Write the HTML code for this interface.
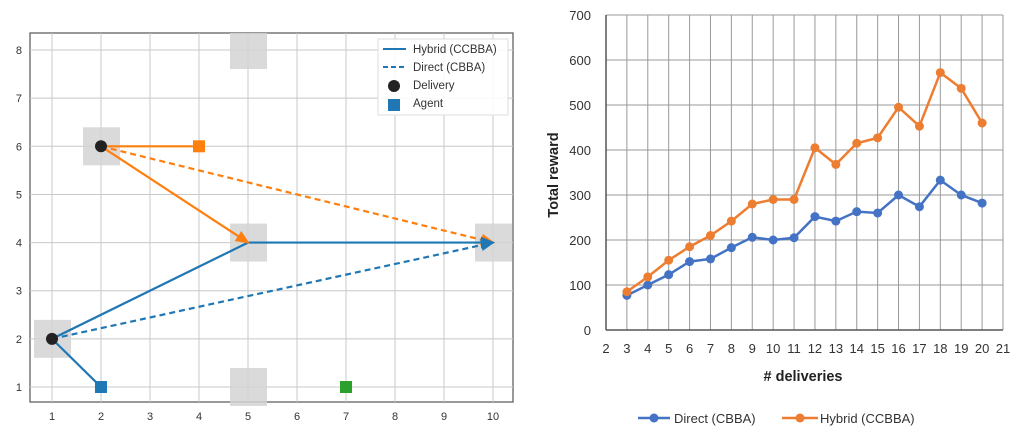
<!DOCTYPE html>
<html><head><meta charset="utf-8"><style>
body{margin:0;background:#fff;width:1026px;height:440px;overflow:hidden}
svg text{font-family:"Liberation Sans",sans-serif}
</style></head><body>
<svg id="s" width="1026" height="440" xmlns="http://www.w3.org/2000/svg">
<defs>
<marker id="ao" markerWidth="14" markerHeight="14" refX="12" refY="7" orient="auto" markerUnits="userSpaceOnUse" viewBox="0 0 14 14"><path d="M0,1L14,7L0,13z" fill="#ff7f0e"/></marker>
<marker id="ab" markerWidth="14" markerHeight="14" refX="12" refY="7" orient="auto" markerUnits="userSpaceOnUse" viewBox="0 0 14 14"><path d="M0,1L14,7L0,13z" fill="#1f77b4"/></marker>
</defs>
<g id="left"></g>
<g id="right"></g>
</svg>
<script>
const NS="http://www.w3.org/2000/svg";
function mk(p,t,a,txt){const e=document.createElementNS(NS,t);for(const k in a)e.setAttribute(k,a[k]);if(txt!==undefined)e.textContent=txt;p.appendChild(e);return e;}

// ---- left map data ----
const gridXTicks=[1,2,3,4,5,6,7,8,9,10];
const gridYTicks=[1,2,3,4,5,6,7,8];
const zones=[[5,8],[2,6],[5,4],[10,4],[1,2],[5,1]];
const deliveries=[[2,6],[1,2]];
const hybridOrange=[[2,6],[4,6]];
const hybridOrangeArrow=[[2,6],[5,4]];
const directOrange=[[2,6],[10,4]];
const hybridBlue=[[2,1],[1,2],[5,4],[10,4]];
const directBlue=[[1,2],[10,4]];
const agentsOrange=[[4,6]];
const agentsBlue=[[2,1]];
const agentsGreen=[[7,1]];

const L=document.getElementById('left');
const lx=v=>52+(v-1)*49, ly=v=>387-(v-1)*48.14;
let e=mk(L,'rect',{x:30,y:33,width:483,height:369,fill:'#fff',stroke:'#555','stroke-width':1.2});

gridXTicks.forEach(t=>{mk(L,'line',{x1:lx(t),x2:lx(t),y1:33,y2:402,stroke:'#c8c8c8'});
 e=mk(L,'text',{x:lx(t),y:420,'font-size':11,'text-anchor':'middle',fill:'#333'},t);
 });
gridYTicks.forEach(t=>{mk(L,'line',{x1:30,x2:513,y1:ly(t),y2:ly(t),stroke:'#c8c8c8'});
 e=mk(L,'text',{x:22,y:ly(t)+4,'font-size':11,'text-anchor':'end',fill:'#333'},t);
 });
zones.forEach(z=>{e=mk(L,'rect',{x:Math.max(30,lx(z[0])-18),y:Math.max(33,ly(z[1])-19),width:37,height:38,fill:'#d3d3d3',opacity:0.85});
 if(ly(z[1])-19<33)e.setAttribute('height',38-(33-(ly(z[1])-19)));
 if(lx(z[0])+19>513)e.setAttribute('width',513-Math.max(30,lx(z[0])-18));
 });
function pl(pts,col,dash,mark,name){e=mk(L,'polyline',{points:pts.map(p=>lx(p[0])+','+ly(p[1])).join(' '),fill:'none',stroke:col,'stroke-width':2.2,'stroke-dasharray':dash||'none'});
 if(mark)e.setAttribute('marker-end',mark);}
pl(directOrange,'#ff7f0e','6,4','url(#ao)','direct-orange-route');
pl(directBlue,'#1f77b4','6,4','url(#ab)','direct-blue-route');
pl(hybridBlue,'#1f77b4',null,'url(#ab)','hybrid-blue-route');
pl(hybridOrange,'#ff7f0e',null,null,'hybrid-orange-route');
pl(hybridOrangeArrow,'#ff7f0e',null,'url(#ao)','hybrid-orange-arrow');
deliveries.forEach(d=>{e=mk(L,'circle',{cx:lx(d[0]),cy:ly(d[1]),r:6,fill:'#222'});});
function ag(arr,col){arr.forEach(a=>{e=mk(L,'rect',{x:lx(a[0])-6,y:ly(a[1])-6,width:12,height:12,fill:col});});}
ag(agentsOrange,'#ff7f0e');ag(agentsBlue,'#1f77b4');ag(agentsGreen,'#2ca02c');
// legend
e=mk(L,'rect',{x:378,y:39,width:130,height:76,fill:'#fff',stroke:'#ddd','fill-opacity':0.9});
mk(L,'line',{x1:383,x2:406,y1:49,y2:49,stroke:'#1f77b4','stroke-width':2});
mk(L,'line',{x1:383,x2:406,y1:67,y2:67,stroke:'#1f77b4','stroke-width':2,'stroke-dasharray':'5,3'});
mk(L,'circle',{cx:394,cy:86,r:6,fill:'#222'});
mk(L,'rect',{x:388,y:99,width:12,height:12,fill:'#1f77b4'});
[['Hybrid (CCBBA)',53],['Direct (CBBA)',71],['Delivery',89],['Agent',107]].forEach(l=>{e=mk(L,'text',{x:413,y:l[1],'font-size':11.5,fill:'#333'},l[0]);});

// ---- right chart data ----
const deliveriesX=[3,4,5,6,7,8,9,10,11,12,13,14,15,16,17,18,19,20];
const directVals=[77,100,123,152,158,183,206,200,205,252,242,263,260,300,274,333,300,282];
const hybridVals=[85,118,155,185,210,242,280,290,290,405,368,415,427,495,453,572,537,460];
const xTickLabels=[2,3,4,5,6,7,8,9,10,11,12,13,14,15,16,17,18,19,20,21];
const yTickLabels=[0,100,200,300,400,500,600,700];

const R=document.getElementById('right');
const rx=v=>606+(v-2)*(397/19), ry=v=>330-v*(315/700);
xTickLabels.forEach(t=>{mk(R,'line',{x1:rx(t),x2:rx(t),y1:15,y2:330,stroke:'#999'});
 e=mk(R,'text',{x:rx(t),y:353,'font-size':13,'text-anchor':'middle',fill:'#333'},t);
 });
yTickLabels.forEach(t=>{mk(R,'line',{x1:606,x2:1003,y1:ry(t),y2:ry(t),stroke:'#999'});
 e=mk(R,'text',{x:591,y:ry(t)+5,'font-size':13,'text-anchor':'end',fill:'#333'},t);
 });
mk(R,'line',{x1:606,x2:1003,y1:330,y2:330,stroke:'#555','stroke-width':1.5});
mk(R,'line',{x1:606,x2:606,y1:15,y2:330,stroke:'#555','stroke-width':1.5});
function series(vals,col,name){e=mk(R,'polyline',{points:vals.map((v,i)=>rx(deliveriesX[i])+','+ry(v)).join(' '),fill:'none',stroke:col,'stroke-width':2.5});
 
 vals.forEach((v,i)=>{const c=mk(R,'circle',{cx:rx(deliveriesX[i]),cy:ry(v),r:4.5,fill:col});
 });}
series(directVals,'#4472c4','direct');
series(hybridVals,'#ed7d31','hybrid');
e=mk(R,'text',{x:803,y:381,'font-size':14.5,'font-weight':'bold','text-anchor':'middle',fill:'#222'},'# deliveries');

e=mk(R,'text',{x:0,y:0,'font-size':14.5,'font-weight':'bold','text-anchor':'middle',fill:'#222',transform:'translate(558,175) rotate(-90)'},'Total reward');

mk(R,'line',{x1:638,x2:670,y1:418,y2:418,stroke:'#4472c4','stroke-width':2.5});mk(R,'circle',{cx:654,cy:418,r:4.5,fill:'#4472c4'});
e=mk(R,'text',{x:674,y:423,'font-size':13,fill:'#333'},'Direct (CBBA)');
mk(R,'line',{x1:782,x2:818,y1:418,y2:418,stroke:'#ed7d31','stroke-width':2.5});mk(R,'circle',{cx:800,cy:418,r:4.5,fill:'#ed7d31'});
e=mk(R,'text',{x:820,y:423,'font-size':13,fill:'#333'},'Hybrid (CCBBA)');
</script>
</body></html>
